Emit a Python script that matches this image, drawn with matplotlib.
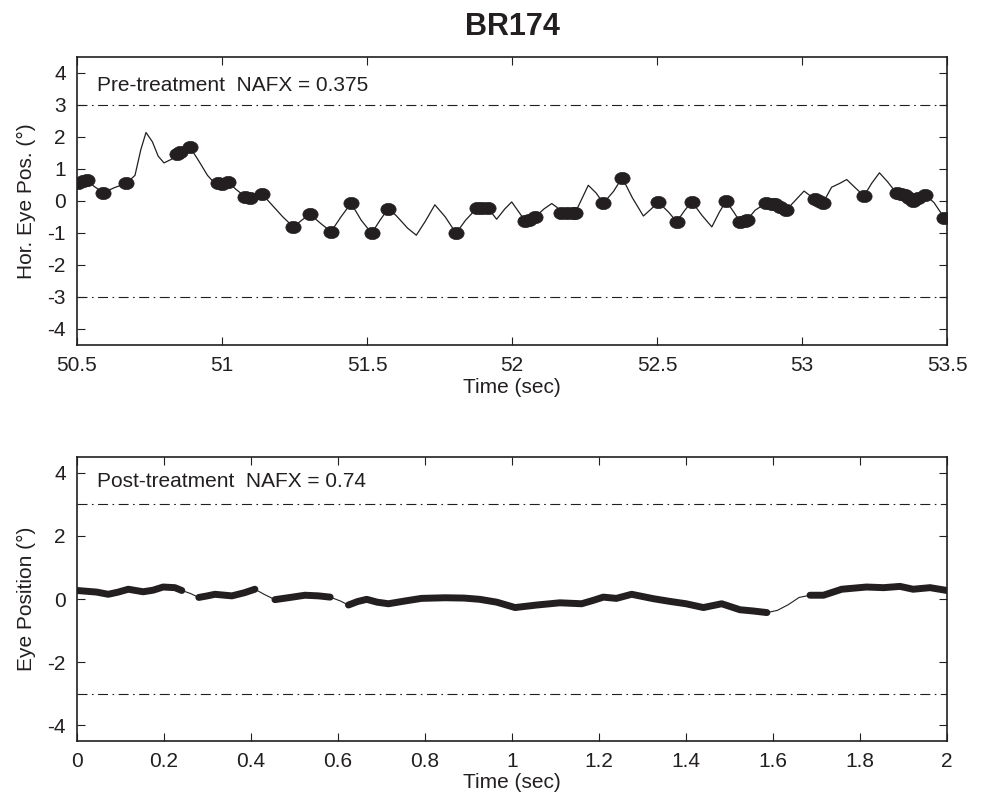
import numpy as np
import matplotlib
matplotlib.use('Agg')
import matplotlib.pyplot as plt
from matplotlib.path import Path

plt.rcParams['font.family'] = ['Liberation Sans', 'DejaVu Sans']
plt.rcParams['font.size'] = 15
plt.rcParams['axes.unicode_minus'] = False
INK = '#231f20'

TITLE = 'BR174'

# pre-treatment trace (time in sec, position in deg)
pre_t = [50.500, 50.515, 50.533, 50.560, 50.590, 50.630, 50.670, 50.700, 50.720, 50.738,
         50.760, 50.780, 50.800, 50.825, 50.850, 50.870, 50.890, 50.920, 50.950, 50.970,
         50.993, 51.020, 51.050, 51.085, 51.110, 51.137, 51.170, 51.210, 51.246, 51.275,
         51.303, 51.340, 51.376, 51.410, 51.445, 51.480, 51.516, 51.545, 51.573, 51.600,
         51.640, 51.670, 51.700, 51.734, 51.770, 51.807, 51.840, 51.878, 51.918, 51.947,
         51.975, 51.999, 52.020, 52.045, 52.080, 52.110, 52.137, 52.155, 52.170, 52.217,
         52.240, 52.263, 52.290, 52.315, 52.350, 52.380, 52.415, 52.453, 52.480, 52.504,
         52.540, 52.568, 52.595, 52.620, 52.655, 52.689, 52.715, 52.738, 52.765, 52.786,
         52.811, 52.838, 52.876, 52.907, 52.945, 52.975, 53.007, 53.030, 53.045, 53.073,
         53.102, 53.130, 53.154, 53.185, 53.214, 53.240, 53.267, 53.295, 53.326, 53.355,
         53.383, 53.424, 53.455, 53.490, 53.500]
pre_y = [0.52, 0.60, 0.65, 0.45, 0.26, 0.42, 0.55, 0.80, 1.60, 2.14,
         1.85, 1.40, 1.19, 1.30, 1.50, 1.60, 1.68, 1.25, 0.80, 0.60,
         0.55, 0.59, 0.35, 0.10, 0.12, 0.23, -0.10, -0.50, -0.81, -0.60,
         -0.41, -0.70, -0.96, -0.50, -0.07, -0.60, -1.01, -0.60, -0.24, -0.45,
         -0.85, -1.07, -0.65, -0.12, -0.50, -1.01, -0.60, -0.23, -0.23, -0.57,
         -0.25, -0.03, -0.30, -0.62, -0.50, -0.25, -0.08, -0.20, -0.38, -0.38,
         0.05, 0.49, 0.25, -0.07, 0.30, 0.73, 0.10, -0.47, -0.25, -0.03,
         -0.35, -0.65, -0.30, -0.02, -0.45, -0.81, -0.35, 0.00, -0.35, -0.65,
         -0.59, -0.29, -0.07, -0.10, -0.29, 0.00, 0.31, 0.15, 0.05, -0.05,
         0.43, 0.55, 0.67, 0.40, 0.16, 0.55, 0.88, 0.60, 0.24, 0.18,
         0.00, 0.20, -0.05, -0.52, -0.55]

# foveation periods marked in the pre-treatment record
pre_fix_t = [50.505, 50.520, 50.533, 50.590, 50.670, 50.845, 50.855, 50.890,
             50.985, 51.000, 51.020, 51.080, 51.095, 51.137, 51.246, 51.303,
             51.376, 51.445, 51.516, 51.573, 51.807, 51.878, 51.895, 51.918,
             52.045, 52.060, 52.080, 52.170, 52.190, 52.210, 52.217, 52.315,
             52.380, 52.504, 52.568, 52.620, 52.738, 52.786, 52.805, 52.811,
             52.876, 52.895, 52.907, 52.925, 52.945, 53.045, 53.060, 53.073,
             53.214, 53.326, 53.340, 53.355, 53.370, 53.383, 53.400, 53.424,
             53.490]
pre_fix_y = [0.55, 0.62, 0.65, 0.26, 0.55, 1.48, 1.52, 1.68,
             0.57, 0.53, 0.59, 0.12, 0.08, 0.23, -0.81, -0.41,
             -0.96, -0.07, -1.01, -0.24, -1.01, -0.23, -0.23, -0.23,
             -0.62, -0.58, -0.50, -0.38, -0.38, -0.38, -0.38, -0.07,
             0.73, -0.03, -0.65, -0.02, 0.00, -0.65, -0.62, -0.59,
             -0.07, -0.08, -0.10, -0.18, -0.29, 0.05, 0.00, -0.05,
             0.16, 0.24, 0.21, 0.18, 0.10, 0.00, 0.08, 0.20,
             -0.52]

# post-treatment trace
post_t = [0.000, 0.018, 0.045, 0.072, 0.095, 0.118, 0.152, 0.175, 0.198, 0.225,
          0.241, 0.260, 0.280, 0.300, 0.317, 0.340, 0.356, 0.385, 0.409, 0.430,
          0.455, 0.490, 0.524, 0.555, 0.582, 0.605, 0.624, 0.645, 0.666, 0.690,
          0.716, 0.755, 0.792, 0.846, 0.890, 0.926, 0.965, 1.007, 1.057, 1.110,
          1.160, 1.185, 1.210, 1.240, 1.275, 1.325, 1.365, 1.400, 1.440, 1.482,
          1.524, 1.555, 1.586, 1.610, 1.635, 1.660, 1.685, 1.716, 1.758, 1.815,
          1.854, 1.892, 1.922, 1.961, 2.000]
post_y = [0.27, 0.25, 0.22, 0.15, 0.22, 0.31, 0.23, 0.28, 0.38, 0.36,
          0.27, 0.18, 0.05, 0.10, 0.15, 0.12, 0.10, 0.20, 0.31, 0.15,
          -0.02, 0.05, 0.12, 0.10, 0.06, -0.06, -0.19, -0.08, -0.01, -0.10,
          -0.15, -0.06, 0.02, 0.04, 0.03, -0.01, -0.10, -0.27, -0.19, -0.12,
          -0.15, -0.05, 0.06, 0.02, 0.15, 0.01, -0.08, -0.15, -0.27, -0.15,
          -0.34, -0.38, -0.43, -0.36, -0.18, 0.05, 0.12, 0.12, 0.31, 0.38,
          0.36, 0.40, 0.31, 0.36, 0.27]

# foveation periods in the post-treatment record (start, end) in sec
post_fov = [(0.000, 0.241), (0.280, 0.409), (0.455, 0.582), (0.624, 1.586), (1.685, 2.000)]

fig = plt.figure(figsize=(9.87, 7.98), dpi=100)
ax1 = fig.add_axes([0.078, 0.5677, 0.8815, 0.3609])
ax2 = fig.add_axes([0.078, 0.0714, 0.8815, 0.3559])

dashdot = (0, (9, 4, 1.5, 4))

# slightly wide ellipse marker, like the original blobs
th = np.linspace(0, 2 * np.pi, 41)
blob = Path(np.column_stack([np.cos(th), 0.8 * np.sin(th)]), closed=True)

# top panel
ax1.plot(pre_t, pre_y, color=INK, lw=0.9, zorder=3)
ax1.plot(pre_fix_t, pre_fix_y, ls='none', marker=blob, color=INK, ms=11,
         mec=INK, mew=0.5, zorder=4)
ax1.axhline(3, color=INK, lw=0.8, ls=dashdot)
ax1.axhline(-3, color=INK, lw=0.8, ls=dashdot)
ax1.set_xlim(50.5, 53.5)
ax1.set_ylim(-4.5, 4.5)
ax1.set_xticks(np.arange(50.5, 53.51, 0.5))
ax1.set_xticklabels(['50.5', '51', '51.5', '52', '52.5', '53', '53.5'])
ax1.set_yticks(np.arange(-4, 5, 1))
ax1.set_xlabel('Time (sec)', color=INK, labelpad=2)
ax1.set_ylabel('Hor. Eye Pos. (°)', color=INK, labelpad=8)
ax1.text(50.57, 3.62, 'Pre-treatment  NAFX = 0.375', va='center', ha='left', color=INK)

# bottom panel
pt = np.array(post_t)
py = np.array(post_y)
ax2.plot(pt, py, color=INK, lw=0.8, zorder=3)
for a, b in post_fov:
    m = (pt >= a - 1e-9) & (pt <= b + 1e-9)
    ax2.plot(pt[m], py[m], color=INK, lw=5, solid_capstyle='round',
             solid_joinstyle='round', zorder=4)
ax2.axhline(3, color=INK, lw=0.8, ls=dashdot)
ax2.axhline(-3, color=INK, lw=0.8, ls=dashdot)
ax2.set_xlim(0, 2)
ax2.set_ylim(-4.5, 4.5)
ax2.set_xticks(np.arange(0, 2.01, 0.2))
ax2.set_xticklabels(['0', '0.2', '0.4', '0.6', '0.8', '1', '1.2', '1.4', '1.6', '1.8', '2'])
ax2.set_yticks([-4, -2, 0, 2, 4])
ax2.set_xlabel('Time (sec)', color=INK, labelpad=1)
ax2.set_ylabel('Eye Position (°)', color=INK, labelpad=8)
ax2.text(0.046, 3.73, 'Post-treatment  NAFX = 0.74', va='center', ha='left', color=INK)

for ax in (ax1, ax2):
    ax.tick_params(direction='in', length=6, width=0.8, top=True, right=True,
                   colors=INK, labelsize=15, pad=8)
    for s in ax.spines.values():
        s.set_linewidth(1.2)
        s.set_color(INK)

fig.text(0.519, 0.966, TITLE, ha='center', va='center', fontsize=22,
         fontweight='bold', color=INK)

fig.savefig('out.png', dpi=100)
